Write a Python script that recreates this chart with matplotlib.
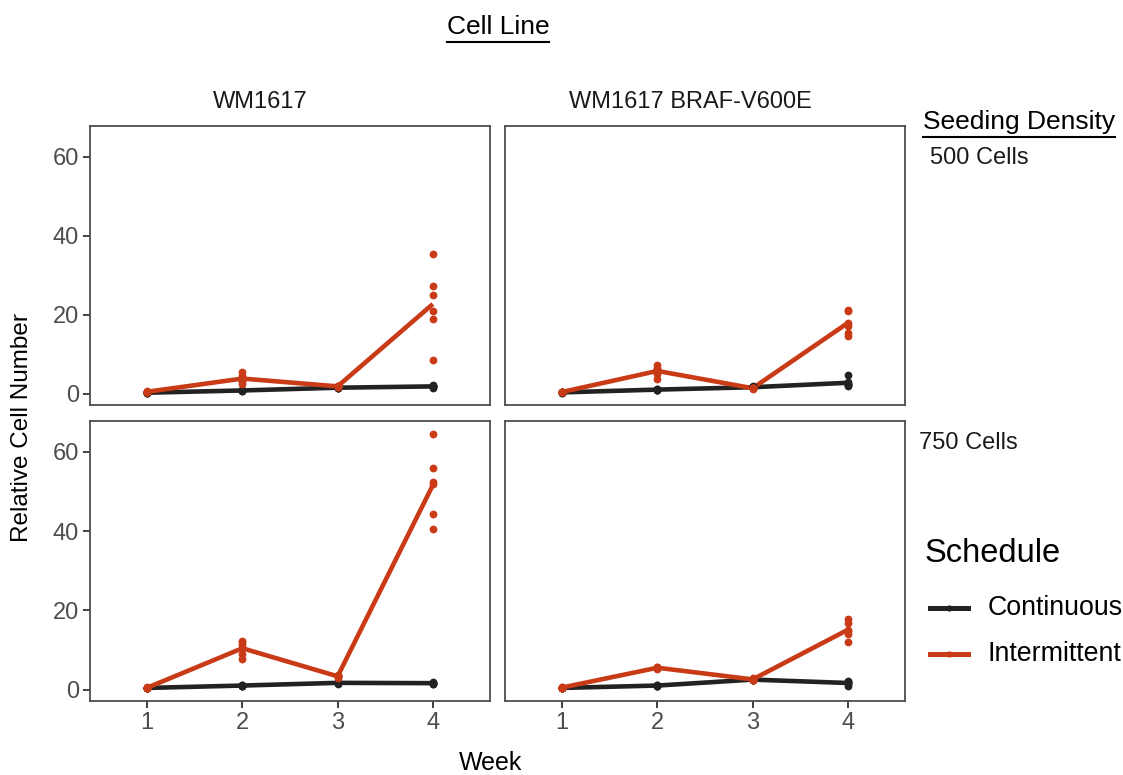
import numpy as np
import matplotlib
matplotlib.use("Agg")
import matplotlib.pyplot as plt
from matplotlib.lines import Line2D

plt.rcParams["font.family"] = ["Liberation Sans", "DejaVu Sans"]

weeks = [1, 2, 3, 4]
cell_lines = ["WM1617", "WM1617 BRAF-V600E"]
densities = ["500 Cells", "750 Cells"]
schedules = ["Continuous", "Intermittent"]

# replicate values per week (rows = weeks 1..4)
wm_500_cont = [[0.1, 0.2, 0.3, 0.2, 0.3, 0.2], [0.6, 0.8, 0.9, 0.7, 0.8, 0.9],
               [1.3, 1.5, 1.6, 1.4, 1.5, 1.6], [1.5, 1.8, 2.1, 2.0, 1.6, 1.9]]
wm_500_int = [[0.3, 0.5, 0.4, 0.6, 0.5, 0.4], [2.5, 3.3, 3.9, 4.5, 5.4, 3.2],
              [1.6, 1.9, 1.8, 2.0, 1.7, 1.9], [35.4, 27.3, 25.1, 20.8, 18.9, 8.6]]
v600_500_cont = [[0.2, 0.3, 0.4, 0.3, 0.2, 0.4], [0.8, 1.0, 1.1, 0.9, 1.2, 1.0],
                 [1.4, 1.6, 1.7, 1.5, 1.8, 1.6], [4.6, 2.3, 2.0, 2.4, 2.1, 3.0]]
v600_500_int = [[0.3, 0.4, 0.5, 0.4, 0.3, 0.5], [3.7, 5.0, 5.8, 6.4, 7.3, 6.2],
                [1.2, 1.4, 1.3, 1.5, 1.4, 1.3], [21.3, 20.8, 18.0, 17.2, 15.4, 14.7]]
wm_750_cont = [[0.3, 0.4, 0.5, 0.4, 0.3, 0.5], [0.8, 1.0, 1.1, 0.9, 1.2, 1.0],
               [1.5, 1.7, 1.8, 1.6, 1.7, 1.8], [1.4, 1.6, 1.7, 1.5, 1.8, 1.6]]
wm_750_int = [[0.3, 0.5, 0.4, 0.6, 0.5, 0.4], [7.6, 9.0, 10.5, 11.2, 12.0, 12.2],
              [3.0, 3.4, 3.6, 3.2, 3.5, 3.3], [64.6, 56.0, 52.3, 52.0, 44.3, 40.5]]
v600_750_cont = [[0.3, 0.4, 0.5, 0.4, 0.3, 0.5], [0.8, 1.0, 1.1, 0.9, 1.2, 1.0],
                 [2.3, 2.5, 2.7, 2.4, 2.6, 2.5], [0.8, 1.5, 2.1, 1.9, 1.6, 2.0]]
v600_750_int = [[0.4, 0.5, 0.6, 0.5, 0.4, 0.6], [5.2, 5.5, 5.8, 5.4, 5.6, 5.5],
                [2.3, 2.6, 2.8, 2.4, 2.5, 2.7], [17.9, 16.9, 14.8, 13.9, 12.0, 15.0]]

panels = [[(wm_500_cont, wm_500_int), (v600_500_cont, v600_500_int)],
          [(wm_750_cont, wm_750_int), (v600_750_cont, v600_750_int)]]

colors = {"Continuous": "#222222", "Intermittent": "#C93A16"}
yticks = [0, 20, 40, 60]

W, H = 1123, 775
fig = plt.figure(figsize=(W / 100, H / 100), dpi=100)


def px_axes(x0, y0, x1, y1):
    return fig.add_axes([x0 / W, 1 - y1 / H, (x1 - x0) / W, (y1 - y0) / H])


def underline(txt, pad=3):
    fig.canvas.draw()
    bb = txt.get_window_extent()
    y = bb.y0 - pad
    fig.add_artist(Line2D([bb.x0 / W, bb.x1 / W], [y / H, y / H],
                          color="black", lw=1.5))


col_x = [(90, 490), (505, 905)]
row_y = [(126, 405), (421, 701)]

for r in range(2):
    for c in range(2):
        ax = px_axes(col_x[c][0], row_y[r][0], col_x[c][1], row_y[r][1])
        for name, reps in zip(schedules, panels[r][c]):
            reps = np.array(reps)
            means = reps.mean(axis=1)
            ax.plot(weeks, means, color=colors[name], lw=3.3, zorder=3,
                    solid_capstyle="butt")
            for w, vals in zip(weeks, reps):
                ax.plot([w] * len(vals), vals, "o", color=colors[name],
                        ms=5.6, mew=0, zorder=4)
        ax.set_xlim(0.4, 4.6)
        ax.set_ylim(-2.9, 67.8)
        ax.set_yticks(yticks)
        ax.set_xticks(weeks)
        for sp in ax.spines.values():
            sp.set_color("#4D4D4D")
            sp.set_linewidth(1.3)
        ax.tick_params(colors="#333333", labelcolor="#4D4D4D", labelsize=17,
                       length=5, width=1.3, pad=3)
        if c == 1:
            ax.tick_params(axis="y", left=False, labelleft=False)
        if r == 0:
            ax.tick_params(axis="x", bottom=False, labelbottom=False)

# facet strip labels
strip_x = [260, 690]
for c, name in enumerate(cell_lines):
    fig.text(strip_x[c] / W, 1 - 102 / H, name, ha="center", va="center",
             fontsize=17, color="#1A1A1A")

fig.text(930 / W, 1 - 158 / H, densities[0], ha="left", va="center",
         fontsize=17, color="#1A1A1A")
fig.text(919 / W, 1 - 443 / H, densities[1], ha="left", va="center",
         fontsize=17, color="#1A1A1A")

t1 = fig.text(498 / W, 1 - 27 / H, "Cell Line", ha="center", va="center",
              fontsize=19)
t2 = fig.text(1019 / W, 1 - 122 / H, "Seeding Density", ha="center",
              va="center", fontsize=19)
underline(t1)
underline(t2)

fig.text(22 / W, 1 - 428 / H, "Relative Cell Number", rotation=90,
         ha="center", va="center", fontsize=17.5)
fig.text(491 / W, 1 - 763 / H, "Week", ha="center", va="center",
         fontsize=18)

# legend
fig.text(925 / W, 1 - 553 / H, "Schedule", ha="left", va="center",
         fontsize=23.5)
for i, name in enumerate(schedules):
    y = 1 - (608 + 46 * i) / H
    fig.add_artist(Line2D([930 / W, 968 / W], [y, y], color=colors[name],
                          lw=3.6))
    fig.add_artist(Line2D([949 / W], [y], marker="o", color=colors[name],
                          ms=4.5, mew=0))
    fig.text(988 / W, y, name, ha="left", va="center", fontsize=19.3)

fig.savefig("out.png", dpi=100)
